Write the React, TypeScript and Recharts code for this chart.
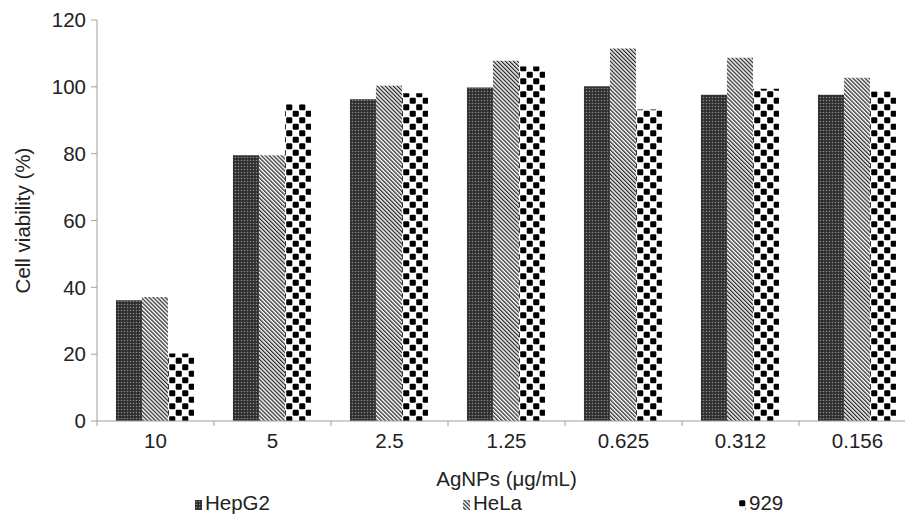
import React from 'react';
import { BarChart, Bar, XAxis, YAxis, Legend } from 'recharts';

const categories = ['10', '5', '2.5', '1.25', '0.625', '0.312', '0.156'];
const hepg2 = [36.1, 79.5, 96.3, 99.8, 100.2, 97.6, 97.6];
const hela = [37.1, 79.5, 100.3, 107.8, 111.5, 108.7, 102.7];
const l929 = [20.2, 94.8, 98.1, 106.1, 93.2, 99.4, 98.6];
const yTicks = [0, 20, 40, 60, 80, 100, 120];

const data = categories.map((name, i) => ({
  name,
  HepG2: hepg2[i],
  HeLa: hela[i],
  L929: l929[i],
}));

const W = 930;
const H = 516;
const margin = { top: 20, right: 14, left: 37, bottom: 25 };
const Y_AXIS_W = 60;
const HALF_BAND = (W - margin.left - margin.right - Y_AXIS_W) / categories.length / 2;

const font = '"Liberation Sans", Arial, sans-serif';
const fs = 20.5;
const axisGray = '#a0a0a0';
const textColor = '#222';

function XTick(props: any) {
  const { x, y, payload, index } = props;
  return (
    <g>
      <line x1={x + HALF_BAND} x2={x + HALF_BAND} y1={y} y2={y + 5} stroke={axisGray} />
      {index === 0 && <line x1={x - HALF_BAND} x2={x - HALF_BAND} y1={y} y2={y + 5} stroke={axisGray} />}
      <text x={x} y={y + 27} textAnchor="middle" fill={textColor} fontSize={fs} fontFamily={font}>
        {payload.value}
      </text>
    </g>
  );
}

const legendItems = [
  { label: 'HepG2', fill: 'url(#pHep)', left: 195 },
  { label: 'HeLa', fill: 'url(#pHela)', left: 463 },
  { label: '929', fill: 'url(#pL929)', left: 739 },
];

function LegendContent() {
  return (
    <div style={{ position: 'relative', height: 0 }}>
      {legendItems.map((it) => (
        <div
          key={it.label}
          style={{
            position: 'absolute',
            left: it.left,
            top: 492,
            display: 'flex',
            alignItems: 'center',
            fontFamily: font,
            fontSize: fs,
            lineHeight: '22px',
            color: textColor,
            whiteSpace: 'nowrap',
          }}
        >
          <svg width={8} height={10} style={{ marginRight: 2, marginTop: 3 }}>
            <rect x={0} y={0} width={7} height={10} fill={it.fill} />
          </svg>
          <span>{it.label}</span>
        </div>
      ))}
    </div>
  );
}

export default function App() {
  return (
    <div style={{ position: 'absolute', left: 0, top: 0, width: 905, height: H, overflow: 'hidden', background: '#fff' }}>
      <BarChart
        width={W}
        height={H}
        data={data}
        margin={margin}
        barCategoryGap="16.2%"
        barGap={0}
        style={{ fontFamily: font }}
      >
        <defs>
          <pattern id="pHep" width={3} height={3} patternUnits="userSpaceOnUse">
            <rect width={3} height={3} fill="#2e2e2e" />
            <circle cx={1.5} cy={1.5} r={0.8} fill="#8a8a8a" />
          </pattern>
          <pattern id="pHela" width={2.85} height={2.85} patternUnits="userSpaceOnUse" patternTransform="rotate(-45)">
            <rect width={2.85} height={2.85} fill="#fff" />
            <rect width={1.3} height={2.85} fill="#2a2a2a" />
          </pattern>
          <pattern id="pL929" width={13} height={13} patternUnits="userSpaceOnUse">
            <rect width={13} height={13} fill="#fff" />
            <rect x={0.2} y={0.2} width={6.1} height={6.1} rx={1.2} fill="#000" />
            <rect x={6.7} y={6.7} width={6.1} height={6.1} rx={1.2} fill="#000" />
          </pattern>
        </defs>
        <XAxis
          dataKey="name"
          height={70}
          interval={0}
          tickSize={0}
          tickMargin={0}
          tickLine={false}
          axisLine={{ stroke: axisGray }}
          tick={<XTick />}
          label={{ value: 'AgNPs (μg/mL)', position: 'insideBottom', offset: 5.5, fill: textColor, fontSize: fs, fontFamily: font }}
        />
        <YAxis
          width={Y_AXIS_W}
          domain={[0, 120]}
          ticks={yTicks}
          interval={0}
          tickSize={6}
          tickMargin={5}
          axisLine={{ stroke: axisGray }}
          tickLine={{ stroke: axisGray }}
          tick={{ fill: textColor, fontSize: fs, fontFamily: font }}
          label={{
            content: (p: any) => {
              const vb = p.viewBox || {};
              const cy = vb.y + vb.height / 2;
              return (
                <text
                  x={22}
                  y={cy}
                  transform={`rotate(-90 22 ${cy})`}
                  textAnchor="middle"
                  dominantBaseline="central"
                  fill={textColor}
                  fontSize={fs}
                  fontFamily={font}
                >
                  Cell viability (%)
                </text>
              );
            },
          }}
        />
        <Legend content={<LegendContent />} wrapperStyle={{ top: 0, left: 0, bottom: 'auto', width: W, height: 0 }} />
        <Bar dataKey="HepG2" fill="url(#pHep)" isAnimationActive={false} />
        <Bar dataKey="HeLa" fill="url(#pHela)" isAnimationActive={false} />
        <Bar dataKey="L929" name="929" fill="url(#pL929)" isAnimationActive={false} />
      </BarChart>
    </div>
  );
}
